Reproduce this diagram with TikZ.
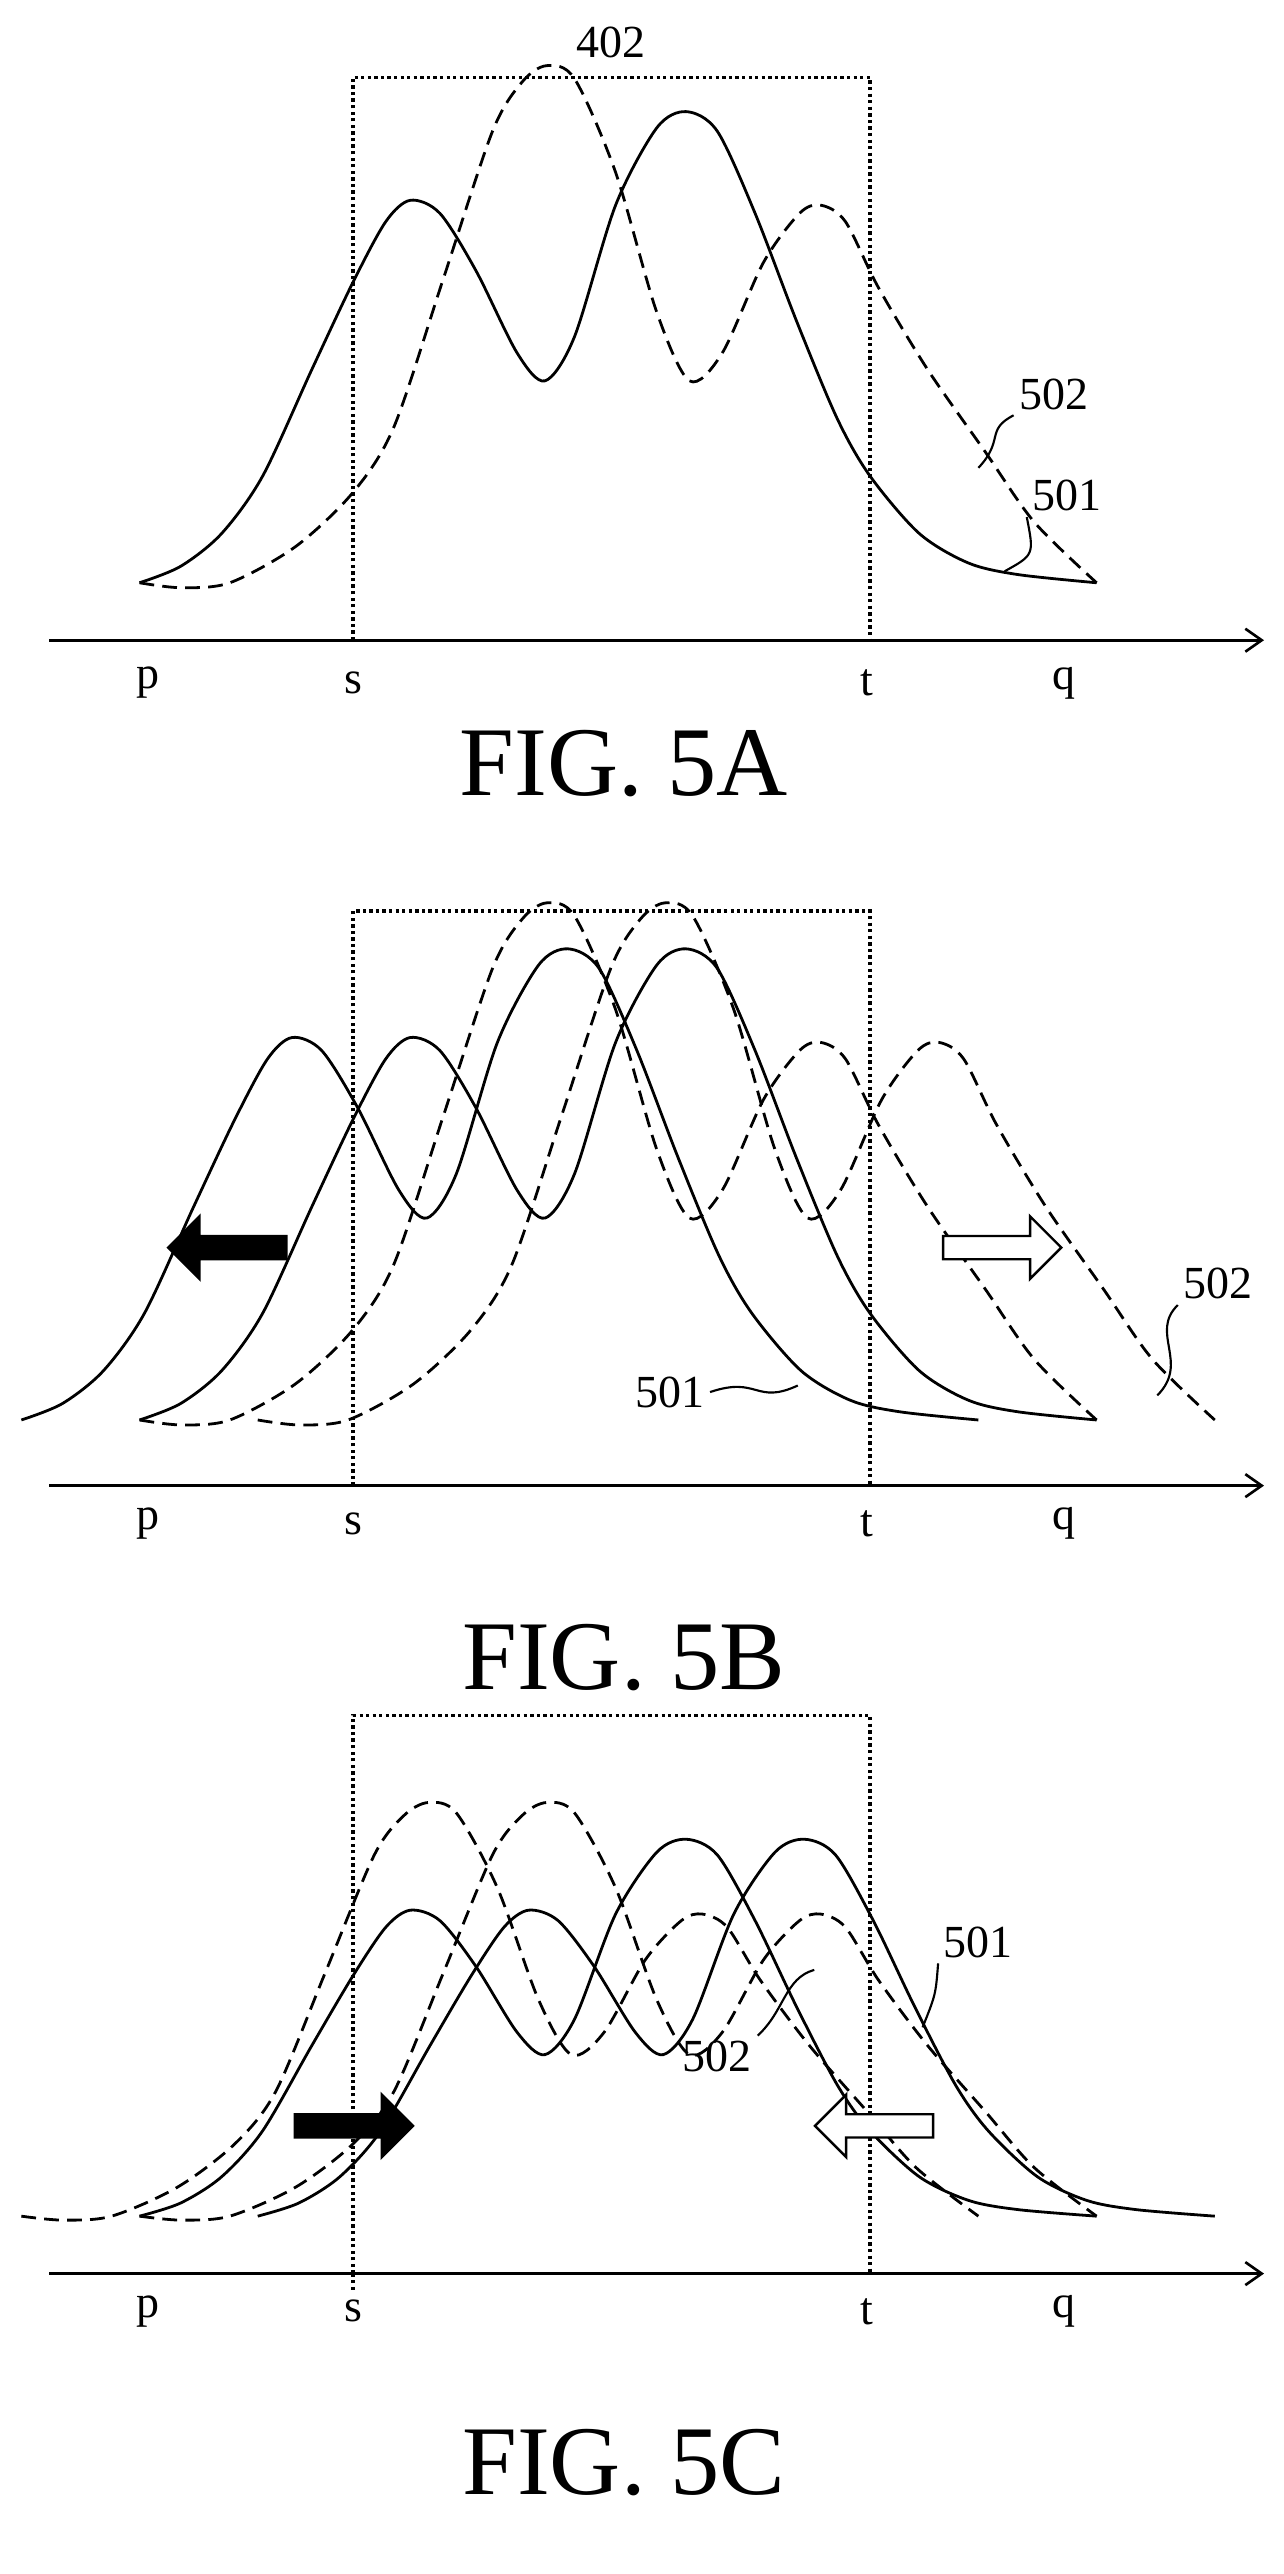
\documentclass[tikz,border=0pt]{standalone}
\usepackage{fontspec}
\setmainfont{Liberation Serif}
\usetikzlibrary{arrows.meta,shapes.arrows}
\newcommand{\solidcurve}{plot[smooth,tension=0.5] coordinates{(85,355) (110,345) (135,325) (160,290) (190,225) (215,172) (235,135) (250,122) (268,130) (290,165) (315,215) (332,232) (350,205) (375,125) (400,78) (418,68) (437,80) (460,130) (485,195) (510,255) (530,290) (560,325) (590,343) (620,350) (668,355)}}
\newcommand{\dashcurve}{plot[smooth,tension=0.5] coordinates{(85,355) (110,358) (140,355) (180,333) (215,300) (240,260) (270,170) (300,80) (318,50) (333,40) (350,48) (375,105) (400,190) (420,232) (440,215) (465,160) (487,130) (500,125) (515,135) (535,175) (565,225) (600,275) (630,318) (668,355)}}
\tikzset{
	curve/.style = {line width=1.7pt},
	dcurve/.style = {curve, dash pattern=on 9pt off 5pt},
	axis/.style = {line width=1.6pt, -{Straight Barb[length=10pt,width=14pt]}},
	window/.style = {line width=2pt, dotted},
	lbl/.style = {font=\fontsize{28}{30}\selectfont},
	figlbl/.style = {font=\fontsize{60}{64}\selectfont},
	lead/.style = {line width=1.3pt},
	blackarrow/.style = {single arrow, draw, fill=black, line width=1.5pt, minimum height=72pt, minimum width=38pt, single arrow head extend=8pt, inner sep=4pt},
	whitearrow/.style = {blackarrow, fill=white}
}
\begin{document}
\begin{tikzpicture}[x=1pt,y=-1pt]
	\useasboundingbox (0,0) rectangle (782,1568);
	
	% FIG. 5A
	\draw[window] (215,390) -- (215,47) -- (530,47) -- (530,390);
	\node[lbl] (w402) at (372,26) {402};
	\draw[curve] \solidcurve;
	\draw[dcurve] \dashcurve;
	\draw[axis] (30,390) -- (770,390);
	\foreach \name/\x in {p/90,s/215,t/528,q/648}
	\node[lbl] (a\name) at (\x,416) {\name};
	\node[lbl] (a502) at (642,240) {502};
	\node[lbl] (a501) at (650,302) {501};
	\draw[lead] (a502.south west) .. controls (600,262) and (612,268) .. (596,285);
	\draw[lead] (a501.south west) .. controls (630,338) .. (612,348);
	\node[figlbl] (figa) at (380,465) {FIG. 5A};
	
	% FIG. 5B
	\begin{scope}[yshift=-510pt]
		\draw[window] (215,395) -- (215,45) -- (530,45) -- (530,395);
		\draw[curve] \solidcurve;
		\draw[dcurve] \dashcurve;
		\begin{scope}[xshift=-72pt]
			\draw[curve] \solidcurve;
		\end{scope}
		\begin{scope}[xshift=72pt]
			\draw[dcurve] \dashcurve;
		\end{scope}
	\end{scope}
	\draw[axis] (30,905) -- (770,905);
	\foreach \name/\x in {p/90,s/215,t/528,q/648}
	\node[lbl] (b\name) at (\x,928) {\name};
	\node[blackarrow, shape border rotate=180] (bleft) at (142,760) {};
	\node[whitearrow] (bright) at (607,760) {};
	\node[lbl] (b501) at (408,848) {501};
	\node[lbl] (b502) at (742,782) {502};
	\draw[lead] (b501.east) .. controls (462,838) and (460,856) .. (486,844);
	\draw[lead] (b502.south west) .. controls (700,812) and (725,830) .. (705,850);
	\node[figlbl] (figb) at (380,1010) {FIG. 5B};
	
	% FIG. 5C
	\begin{scope}[yshift=-995pt]
		\draw[window] (215,390) -- (215,400) (215,390) -- (215,50) -- (530,50) -- (530,390);
		\begin{scope}[shift={(0,355)},yscale=0.8,shift={(0,-355)}]
			\draw[curve] \solidcurve;
			\draw[dcurve] \dashcurve;
			\begin{scope}[xshift=72pt]
				\draw[curve] \solidcurve;
			\end{scope}
			\begin{scope}[xshift=-72pt]
				\draw[dcurve] \dashcurve;
			\end{scope}
		\end{scope}
	\end{scope}
	\draw[axis] (30,1385) -- (770,1385);
	\foreach \name/\x in {p/90,s/215,t/528,q/648}
	\node[lbl] (c\name) at (\x,1408) {\name};
	\node[blackarrow] (cright) at (212,1295) {};
	\node[whitearrow, shape border rotate=180] (cleft) at (536,1295) {};
	\node[lbl] (c501) at (596,1183) {501};
	\node[lbl] (c502) at (437,1253) {502};
	\draw[lead] (c501.south west) .. controls (570,1215) .. (562,1235);
	\draw[lead] (c502.north east) .. controls (478,1225) and (478,1205) .. (496,1200);
	\node[figlbl] (figc) at (380,1500) {FIG. 5C};
\end{tikzpicture}
\end{document}
